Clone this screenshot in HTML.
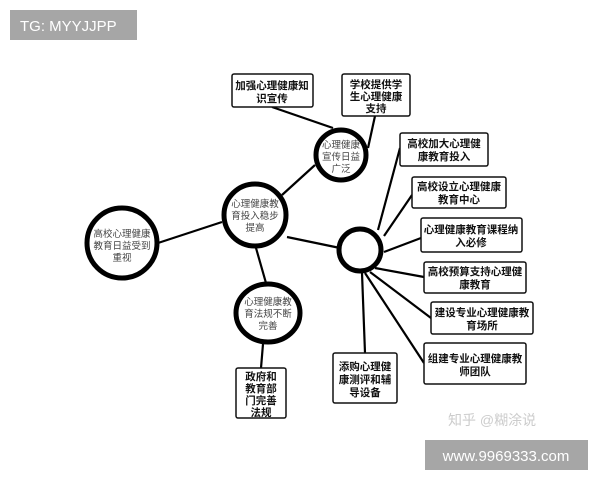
<!DOCTYPE html>
<html><head><meta charset="utf-8"><style>
body{margin:0;background:#fff;}
svg{display:block;}
text{font-family:"Liberation Sans","Noto Sans CJK SC",sans-serif;}
.b{fill:#fff;stroke:#111;stroke-width:1.5;}
.c{fill:#fff;stroke:#000;stroke-width:5;}
.l{stroke:#000;stroke-width:2.2;}
.t{font-size:10.5px;font-weight:bold;fill:#111;text-anchor:middle;}
.ct{font-size:9.5px;fill:#444;text-anchor:middle;}
</style></head><body>
<svg width="600" height="480" viewBox="0 0 600 480">
<rect x="10" y="10" width="127" height="30" fill="#a6a6a6"/>
<text x="20" y="31" font-size="15" fill="#fff">TG: MYYJJPP</text>
<g class="l">
<line x1="272" y1="107" x2="333" y2="128"/>
<line x1="375" y1="116" x2="368" y2="148"/>
<line x1="315" y1="165" x2="282" y2="195"/>
<line x1="222" y1="222" x2="158" y2="243"/>
<line x1="287" y1="237" x2="340" y2="248"/>
<line x1="256" y1="248" x2="266" y2="283"/>
<line x1="263" y1="344" x2="261" y2="368"/>
<line x1="378" y1="230" x2="400" y2="148"/>
<line x1="384" y1="236" x2="412" y2="195"/>
<line x1="384" y1="252" x2="421" y2="238"/>
<line x1="375" y1="268" x2="424" y2="277"/>
<line x1="370" y1="272" x2="431" y2="318"/>
<line x1="365" y1="273" x2="424" y2="363"/>
<line x1="362" y1="273" x2="365" y2="353"/>
</g>
<rect class="b" x="232" y="74" width="81" height="33" rx="2"/>
<text class="t" x="272" y="89">加强心理健康知</text><text class="t" x="272" y="102">识宣传</text>
<rect class="b" x="342" y="74" width="68" height="42" rx="2"/>
<text class="t" x="376" y="88">学校提供学</text><text class="t" x="376" y="100">生心理健康</text><text class="t" x="376" y="112">支持</text>
<rect class="b" x="400" y="133" width="88" height="33" rx="2"/>
<text class="t" x="444" y="147">高校加大心理健</text><text class="t" x="444" y="160">康教育投入</text>
<rect class="b" x="412" y="177" width="94" height="31" rx="2"/>
<text class="t" x="459" y="190">高校设立心理健康</text><text class="t" x="459" y="203">教育中心</text>
<rect class="b" x="421" y="218" width="101" height="34" rx="2"/>
<text class="t" x="471" y="233">心理健康教育课程纳</text><text class="t" x="471" y="246">入必修</text>
<rect class="b" x="424" y="262" width="102" height="31" rx="2"/>
<text class="t" x="475" y="275">高校预算支持心理健</text><text class="t" x="475" y="288">康教育</text>
<rect class="b" x="431" y="302" width="102" height="32" rx="2"/>
<text class="t" x="482" y="316">建设专业心理健康教</text><text class="t" x="482" y="329">育场所</text>
<rect class="b" x="424" y="343" width="102" height="41" rx="2"/>
<text class="t" x="475" y="362">组建专业心理健康教</text><text class="t" x="475" y="375">师团队</text>
<rect class="b" x="333" y="353" width="64" height="50" rx="2"/>
<text class="t" x="365" y="370">添购心理健</text><text class="t" x="365" y="383">康测评和辅</text><text class="t" x="365" y="396">导设备</text>
<rect class="b" x="236" y="368" width="50" height="50" rx="2"/>
<text class="t" x="261" y="380">政府和</text><text class="t" x="261" y="392">教育部</text><text class="t" x="261" y="404">门完善</text><text class="t" x="261" y="416">法规</text>
<ellipse class="c" cx="341" cy="155" rx="25" ry="25"/>
<text class="ct" x="341" y="148">心理健康</text><text class="ct" x="341" y="160">宣传日益</text><text class="ct" x="341" y="172">广泛</text>
<ellipse class="c" cx="255" cy="215" rx="31" ry="31"/>
<text class="ct" x="255" y="207">心理健康教</text><text class="ct" x="255" y="219">育投入稳步</text><text class="ct" x="255" y="231">提高</text>
<ellipse class="c" cx="122" cy="243" rx="35" ry="35"/>
<text class="ct" x="122" y="237">高校心理健康</text><text class="ct" x="122" y="249">教育日益受到</text><text class="ct" x="122" y="261">重视</text>
<ellipse class="c" cx="360" cy="250" rx="21" ry="21"/>
<ellipse class="c" cx="268" cy="313" rx="32" ry="29"/>
<text class="ct" x="268" y="305">心理健康教</text><text class="ct" x="268" y="317">育法规不断</text><text class="ct" x="268" y="329">完善</text>
<text x="448" y="425" font-size="14" fill="#ccc">知乎 @糊涂说</text>
<rect x="425" y="440" width="163" height="30" fill="#a6a6a6"/>
<text x="506" y="461" font-size="15" fill="#fff" text-anchor="middle">www.9969333.com</text>
</svg>
</body></html>
